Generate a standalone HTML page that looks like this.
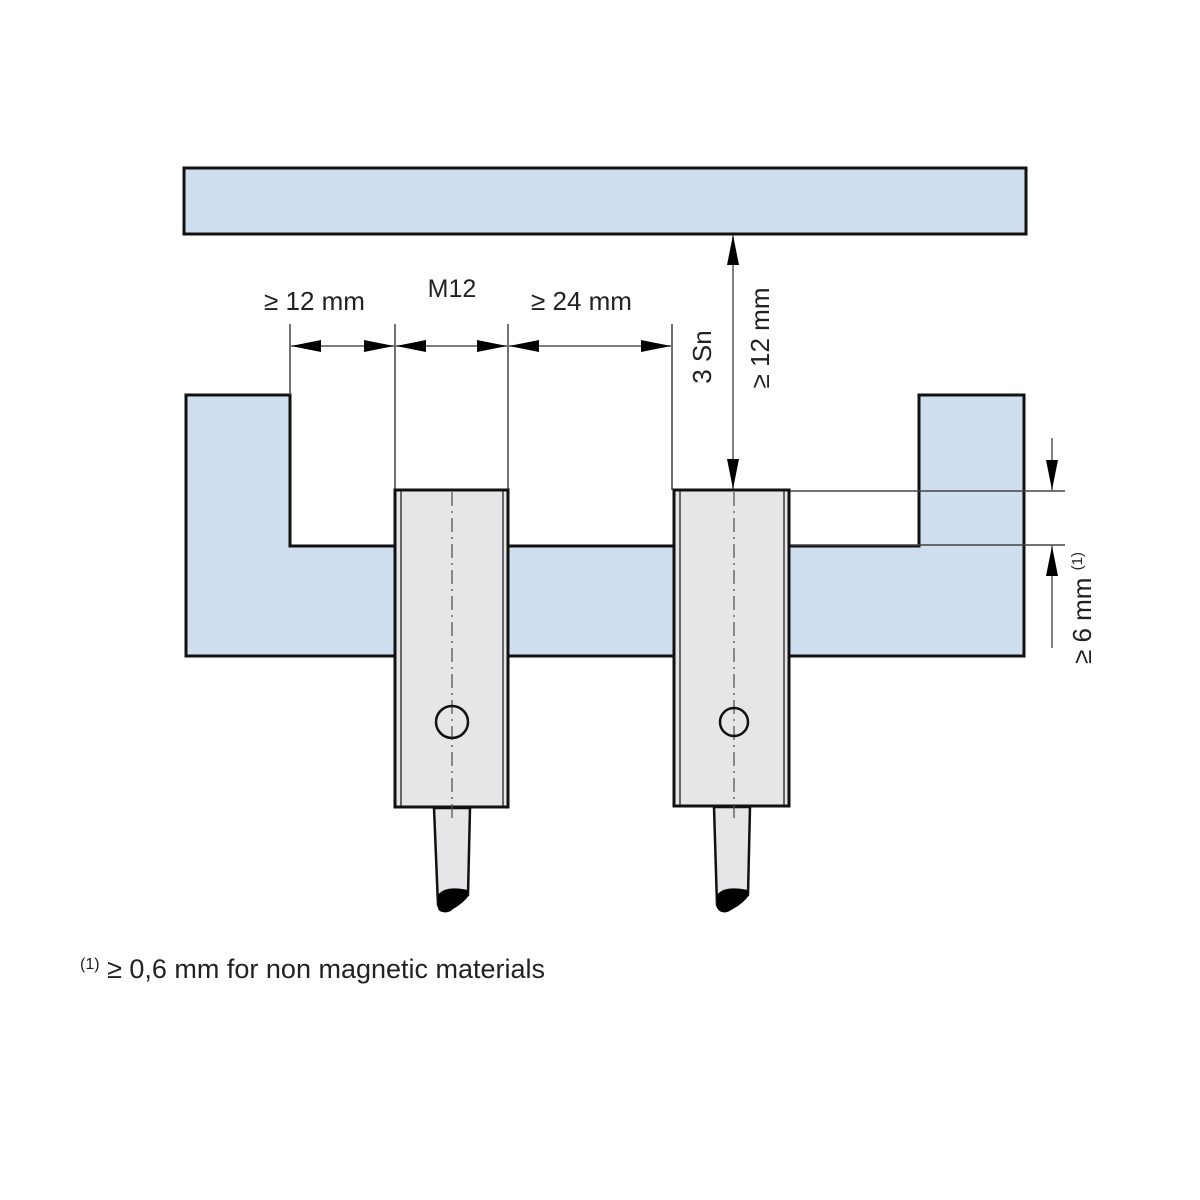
<!DOCTYPE html>
<html><head><meta charset="utf-8"><style>
html,body{margin:0;padding:0;background:#fff;}
svg{display:block;}
text{font-family:"Liberation Sans",sans-serif;fill:#222;}
</style></head><body>
<svg width="1200" height="1200" viewBox="0 0 1200 1200" xmlns="http://www.w3.org/2000/svg">
<defs>
<marker id="a" markerWidth="30" markerHeight="14" refX="30" refY="7" orient="auto-start-reverse" markerUnits="userSpaceOnUse">
<path d="M0,1 L30,7 L0,13 Z" fill="#000"/></marker>
</defs>
<rect x="184" y="168" width="842" height="66" fill="#cfdff0" stroke="#111" stroke-width="3"/>
<path d="M186,395 L290,395 L290,546 L919,546 L919,395 L1024,395 L1024,656 L186,656 Z" fill="#cfdff0" stroke="#111" stroke-width="3"/>
<g stroke="#444" stroke-width="1.5">
<line x1="290" y1="324" x2="290" y2="395"/>
<line x1="395" y1="324" x2="395" y2="490"/>
<line x1="508" y1="324" x2="508" y2="490"/>
<line x1="672" y1="324" x2="672" y2="490"/>
<line x1="789" y1="491" x2="1065" y2="491"/>
<line x1="789" y1="545" x2="1065" y2="545"/>
</g>
<g stroke="#555" stroke-width="1.5" fill="none">
<line x1="291" y1="346" x2="394" y2="346" marker-start="url(#a)" marker-end="url(#a)"/>
<line x1="396" y1="346" x2="507" y2="346" marker-start="url(#a)" marker-end="url(#a)"/>
<line x1="509" y1="346" x2="671" y2="346" marker-start="url(#a)" marker-end="url(#a)"/>
<line x1="733" y1="235" x2="733" y2="489" marker-start="url(#a)" marker-end="url(#a)"/>
<line x1="1052" y1="438" x2="1052" y2="490" marker-end="url(#a)"/>
<line x1="1052" y1="648" x2="1052" y2="546" marker-end="url(#a)"/>
</g>
<g stroke="#111" fill="#e6e6e8">
<rect x="395" y="490" width="113" height="317" stroke-width="3"/>
<line x1="401" y1="491" x2="401" y2="806" stroke-width="1.2"/>
<line x1="503" y1="491" x2="503" y2="806" stroke-width="1.2"/>
<rect x="674" y="490" width="115" height="316" stroke-width="3"/>
<line x1="680" y1="491" x2="680" y2="805" stroke-width="1.2"/>
<line x1="784" y1="491" x2="784" y2="805" stroke-width="1.2"/>
<path d="M434,808 L438,905 Q442,914 450,910 L468,895 L470,808 Z" stroke-width="2.5"/>
<path d="M714,807 L717,905 Q721,914 729,910 L748,895 L750,807 Z" stroke-width="2.5"/>
</g>
<path d="M438,895 Q445,885 468,890 L467,898 Q458,908 446,912 Q437,913 438,905 Z" fill="#000"/>
<path d="M717,895 Q724,885 748,890 L747,898 Q738,908 726,912 Q717,913 717,905 Z" fill="#000"/>
<g stroke="#555" stroke-width="1.3" stroke-dasharray="14,5,2,5" fill="none">
<line x1="452" y1="492" x2="452" y2="820"/>
<line x1="734" y1="492" x2="734" y2="820"/>
</g>
<circle cx="452" cy="722" r="16" fill="none" stroke="#111" stroke-width="2.5"/>
<circle cx="734" cy="722" r="14" fill="none" stroke="#111" stroke-width="2.5"/>
<text x="264" y="310" font-size="26">≥ 12 mm</text>
<text x="452" y="297" font-size="25" text-anchor="middle">M12</text>
<text x="531" y="310" font-size="26">≥ 24 mm</text>
<text transform="translate(711,357) rotate(-90)" font-size="26" text-anchor="middle">3 Sn</text>
<text transform="translate(769,338) rotate(-90)" font-size="26" text-anchor="middle">≥ 12 mm</text>
<text transform="translate(1091,608) rotate(-90)" font-size="26" text-anchor="middle">≥ 6 mm <tspan font-size="15" dy="-9">(1)</tspan></text>
<text x="80" y="978" font-size="27"><tspan font-size="16" dy="-9">(1)</tspan><tspan dy="9"> ≥ 0,6 mm for non magnetic materials</tspan></text>
</svg>
</body></html>
